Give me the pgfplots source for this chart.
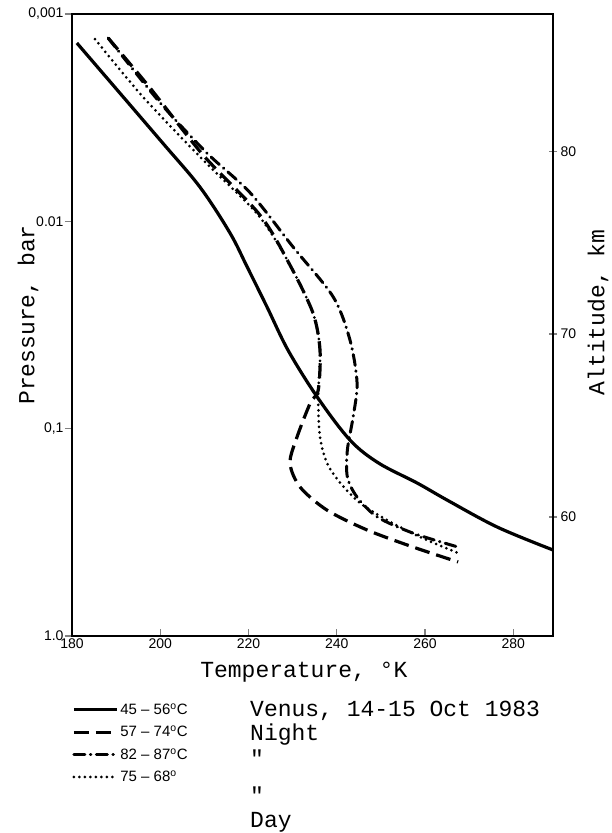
\documentclass[border=0pt]{standalone}
\usepackage{pgfplots}
\pgfplotsset{compat=1.18}
\usepackage{fontspec}
\setmainfont{Liberation Sans}
\newfontfamily\mono{Liberation Mono}

\begin{document}
\begin{tikzpicture}
\begin{axis}[name=main, at={(0,0)}, anchor=south west,
  scale only axis, width=481pt, height=622pt,
  xmin=180, xmax=289, ymode=log, ymin=0.001, ymax=1, y dir=reverse,
  xtick={180,200,220,240,260,280}, xticklabels={180,200,220,240,260,280},
  ytick={0.001,0.01,0.1,1}, yticklabels={{0,001},{0.01},{0,1},{1.0}},
  yminorticks=false, xminorticks=false, xtick pos=bottom, ytick pos=left,
  tick align=inside, major tick length=7pt,
  y tick style={xshift=-7pt, line width=1.4pt},
  x tick style={line width=1.4pt},
  axis line style={line width=1.6pt},
  ticklabel style={font=\fontsize{14}{16}\selectfont},
  xticklabel style={yshift=1pt},
  yticklabel style={xshift=-5pt},
  xlabel={\mono Temperature, \textdegree K},
  xlabel style={at={(axis description cs:0.482,-0.058)}, anchor=center, font=\fontsize{23}{26}\selectfont},
  ylabel={\mono Pressure, bar},
  ylabel style={at={(axis description cs:-0.0915,0.516)}, anchor=center, font=\fontsize{23}{26}\selectfont},
  legend style={at={(axis description cs:0,-0.102)}, anchor=north west, draw=none, fill=none,
    font=\fontsize{15}{17}\selectfont, row sep=6pt, inner xsep=0pt, cells={anchor=west}},
  legend image code/.code={\draw[#1] (0pt,0pt) -- (43pt,0pt);},
]
% 45-56 C (solid)
\addplot[black, line width=3.2pt, smooth, tension=0.55] coordinates {
(181.1,0.00138) (200.0,0.00406) (209.0,0.00684) (215.8,0.01138) (219.7,0.0166)
(224.2,0.0259) (229.0,0.0420) (235.6,0.0705) (243.0,0.1135)
(249.5,0.1466) (258.2,0.1828) (265.0,0.221) (276.4,0.2985) (289.1,0.3855)};
\addlegendentry{45 -- 56\textsuperscript{o}C}
% 57-74 C (dashed)
\addplot[black, line width=3.2pt, smooth, tension=0.5, dash pattern=on 15pt off 7pt] coordinates {
(188.2,0.001306) (197.7,0.002275) (209.7,0.004786) (222.6,0.009333) (229.4,0.01626)
(234.6,0.02767) (236.2,0.04178) (235.8,0.06516) (234.0,0.07516) (231.0,0.1096)
(229.4,0.1466) (231.7,0.1914) (237.8,0.2472) (246.9,0.3083) (257.3,0.3724) (267.5,0.4395)};
\addlegendentry{57 -- 74\textsuperscript{o}C}
% 82-87 C (dash-dot)
\addplot[black, line width=3pt, smooth, tension=0.5, line cap=round, dash pattern=on 11pt off 5.5pt on 0.5pt off 5.5pt] coordinates {
(188.2,0.001306) (200.0,0.002685) (210.6,0.004688) (220.4,0.007295) (230.1,0.0133)
(239.2,0.02317) (243.0,0.03741) (244.6,0.06026) (243.7,0.0879) (242.4,0.1268)
(242.4,0.171) (244.6,0.2138) (249.2,0.2667) (257.3,0.3192) (267.5,0.3724)};
\addlegendentry{82 -- 87\textsuperscript{o}C}
% 75-68 (dotted, day)
\addplot[black, line width=3pt, smooth, tension=0.5, line cap=round, dash pattern=on 0pt off 5.5pt] coordinates {
(185.2,0.001321) (196.1,0.002512) (209.7,0.005058) (222.2,0.009333) (229.4,0.01626)
(234.6,0.02767) (236.2,0.04178) (235.8,0.0705) (236.2,0.1096) (237.8,0.1466)
(240.8,0.1828) (245.3,0.2286) (251.4,0.2761) (258.9,0.3334) (267.5,0.3981)};
\addlegendentry{75 -- 68\textsuperscript{o}}
\end{axis}
\begin{axis}[at={(0,0)}, anchor=south west,
  scale only axis, width=481pt, height=622pt,
  xmin=180, xmax=289, ymin=53.5, ymax=87.5,
  axis x line=none, axis y line*=right, axis line style={-, line width=1.6pt},
  ytick={60,70,80}, yticklabels={60,70,80}, yminorticks=false, tick align=center, major tick length=8pt,
  tick style={line width=1.4pt},
  ticklabel style={font=\fontsize{14}{16}\selectfont},
  ylabel={\mono Altitude, km},
  ylabel style={at={(axis description cs:1.0936,0.52)}, anchor=center, font=\fontsize{23}{26}\selectfont},
]
\end{axis}
\begin{scope}[every node/.style={anchor=west, font=\mono\fontsize{23}{26}\selectfont, inner sep=0pt}]
\node at (178pt,-75pt) {Venus, 14-15 Oct 1983};
\node at (178pt,-99pt) {Night};
\node at (178pt,-122pt) {"};
\node at (178pt,-159pt) {"};
\node at (178pt,-186pt) {Day};
\end{scope}
\pgfresetboundingbox
\path (-72pt,-197pt) rectangle (540pt,636pt);
\end{tikzpicture}
\end{document}
